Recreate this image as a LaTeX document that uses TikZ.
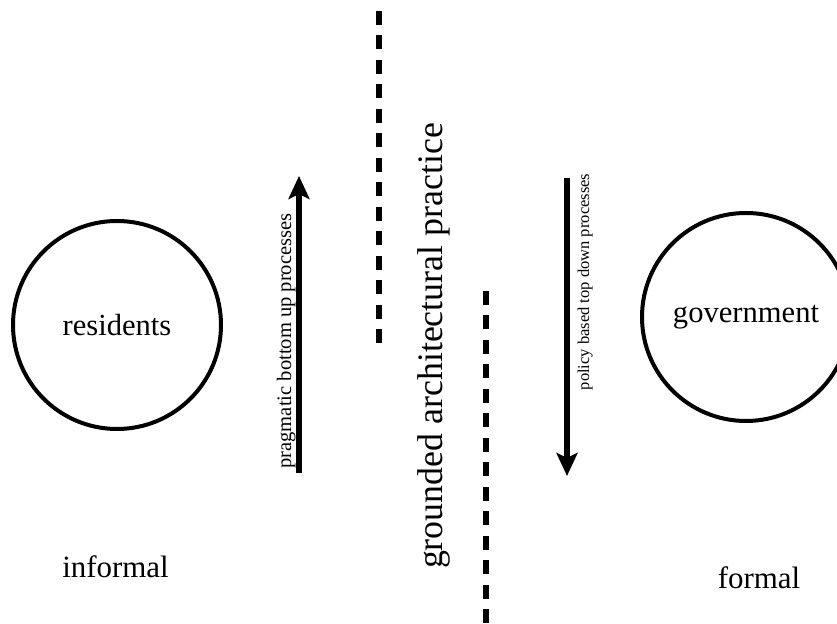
\documentclass[tikz,border=0pt]{standalone}
\usepackage{fontspec}
\setmainfont{Liberation Serif}
\usepackage{tikz}
\usetikzlibrary{arrows.meta, positioning}
\tikzstyle{bigCircle} = [circle, draw=black, line width=0.08cm, minimum size=4.16cm, inner sep=0pt, font=\fontsize{17.4}{20}\selectfont]
\tikzstyle{sideText} = [anchor=base, font=\fontsize{17.6}{20}\selectfont]
\tikzstyle{processText} = [rotate=90, anchor=base, inner sep=0pt]
\tikzstyle{arrow} = [line width=0.12cm, -{Stealth[length=0.46cm, width=0.42cm, inset=0.1cm]}]
\tikzstyle{divider} = [line width=0.12cm, dash pattern=on 0.28cm off 0.21cm]

\begin{document}
\begin{tikzpicture}
    \useasboundingbox (0,0) rectangle (16.74,12.48);
    \clip (0,0) rectangle (16.74,12.48);
    \node (residents) [bigCircle] at (2.34,5.98) {residents};
    \node (government) [bigCircle] at (14.92,6.14) {government};
    \node (informal) [sideText] at (2.31,0.92) {informal};
    \node (formal) [sideText] at (15.18,0.70) {formal};
    \coordinate (upStart) at (5.98,3.02);
    \coordinate (upEnd) at (5.98,8.96);
    \coordinate (downStart) at (11.34,8.92);
    \coordinate (downEnd) at (11.34,2.96);
    \draw [arrow] (upStart) -- (upEnd);
    \draw [arrow] (downStart) -- (downEnd);
    \node (bottomUp) [processText, font=\fontsize{11.7}{14}\selectfont] at (5.82,5.66) {pragmatic bottom up processes};
    \node (topDown) [processText, font=\fontsize{9.4}{12}\selectfont] at (11.78,6.84) {policy based top down processes};
    \node (practice) [processText, font=\fontsize{20.4}{24}\selectfont] at (8.84,5.56) {grounded architectural practice};
    % dashed dividers
    \coordinate (upperTop) at (7.58,12.26);
    \coordinate (upperBottom) at (7.58,5.58);
    \coordinate (lowerTop) at (9.72,6.66);
    \coordinate (lowerBottom) at (9.72,0);
    \draw [divider] (upperTop) -- (upperBottom);
    \draw [divider] (lowerTop) -- (lowerBottom);
\end{tikzpicture}
\end{document}
